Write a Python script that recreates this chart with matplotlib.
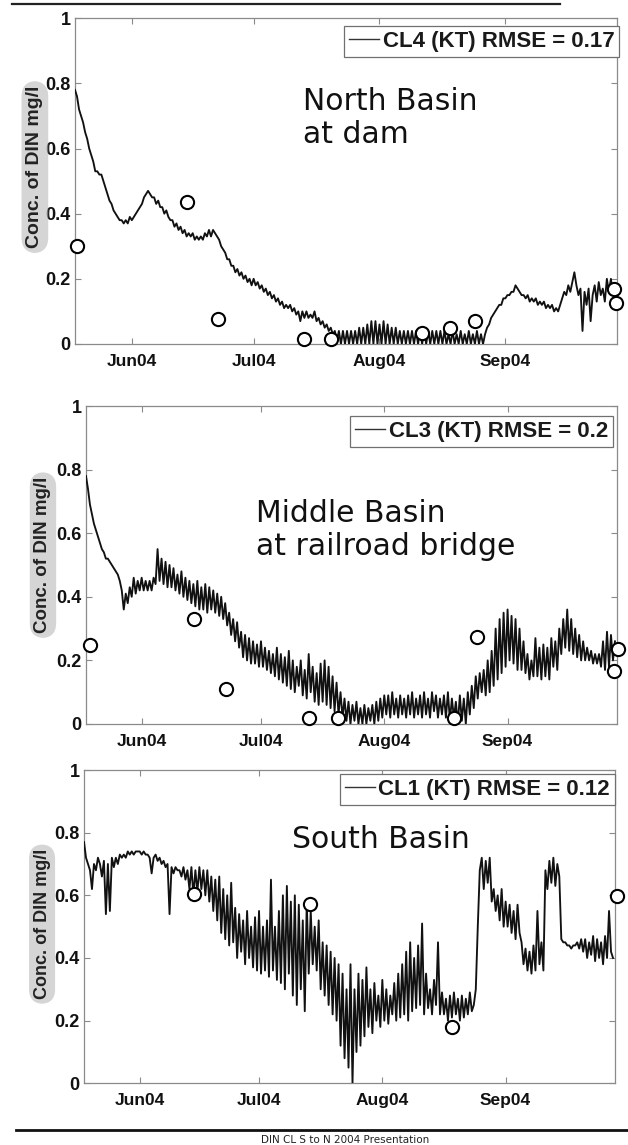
import numpy as np
import matplotlib
matplotlib.use("Agg")
import matplotlib.pyplot as plt
from matplotlib.lines import Line2D

# ---------------- data ----------------
series_start = "2004-05-18T00:00"   # model output, 12-hour steps
step_hours = 12

north_din = [
    .78,.76,.72,.70,.68,.65,.63,.60,.58,.56, .53,.53,.52,.52,.50,.48,.46,.44,.43,.41,
    .40,.39,.38,.38,.37,.38,.37,.39,.38,.39, .40,.41,.42,.43,.45,.46,.47,.46,.45,.45,
    .43,.44,.42,.42,.40,.41,.39,.38,.38,.36, .37,.35,.36,.34,.35,.33,.34,.33,.34,.32,
    .33,.32,.33,.32,.34,.33,.35,.33,.35,.34, .33,.32,.30,.29,.28,.26,.26,.24,.24,.22,
    .23,.21,.22,.20,.21,.19,.20,.18,.20,.18, .19,.17,.18,.16,.17,.15,.16,.14,.15,.13,
    .14,.12,.13,.11,.12,.11,.12,.10,.11,.09, .10,.07,.10,.08,.10,.08,.09,.08,.10,.07,
    .08,.06,.07,.05,.06,.04,.05,.03,.04,.01, .04,.00,.04,.00,.04,.00,.04,.00,.04,.00,
    .05,.00,.05,.00,.06,.00,.07,.00,.07,.00, .06,.00,.07,.00,.06,.00,.05,.00,.05,.00,
    .04,.00,.04,.00,.04,.00,.04,.00,.04,.00, .04,.00,.04,.00,.04,.00,.04,.00,.04,.00,
    .04,.00,.04,.00,.03,.00,.04,.00,.03,.00, .04,.00,.03,.00,.04,.00,.03,.00,.04,.00,
    .03,.00,.03,.05,.06,.08,.09,.10,.11,.12, .12,.14,.14,.15,.15,.16,.16,.18,.17,.16,
    .15,.15,.14,.15,.13,.14,.13,.14,.12,.13, .12,.13,.11,.12,.11,.12,.10,.11,.10,.12,
    .14,.16,.15,.18,.16,.19,.22,.18,.15,.17, .04,.16,.12,.17,.07,.15,.18,.13,.19,.15,
    .17,.13,.20,.16,.20,.15,.18,
]

middle_din = [
    .78,.74,.69,.66,.63,.61,.59,.57,.55,.54, .52,.52,.51,.50,.49,.48,.47,.45,.42,.36,
    .41,.38,.43,.40,.46,.41,.45,.42,.46,.42, .45,.42,.45,.42,.46,.44,.55,.45,.52,.44,
    .51,.43,.50,.43,.49,.42,.47,.41,.48,.40, .46,.39,.45,.38,.44,.37,.45,.36,.43,.36,
    .44,.35,.43,.36,.42,.35,.41,.34,.40,.33, .38,.31,.35,.28,.33,.26,.32,.24,.29,.21,
    .28,.20,.27,.19,.26,.19,.25,.18,.26,.18, .24,.17,.23,.16,.22,.15,.24,.14,.22,.13,
    .21,.12,.23,.11,.20,.10,.18,.12,.20,.09, .17,.08,.22,.10,.18,.07,.16,.06,.19,.07,
    .20,.06,.18,.05,.15,.04,.13,.03,.10,.02, .08,.01,.07,.00,.06,.01,.07,.00,.05,.00,
    .06,.00,.05,.01,.06,.00,.07,.01,.08,.02, .09,.03,.09,.02,.10,.03,.08,.02,.09,.03,
    .08,.02,.09,.03,.10,.02,.08,.03,.09,.02, .10,.03,.08,.02,.10,.04,.09,.02,.08,.03,
    .09,.02,.10,.01,.08,.02,.07,.00,.09,.01, .08,.00,.10,.03,.12,.05,.15,.08,.16,.10,
    .17,.09,.20,.10,.23,.12,.30,.14,.33,.16, .35,.18,.36,.20,.34,.19,.33,.17,.30,.17,
    .26,.16,.22,.14,.20,.15,.27,.15,.24,.14, .25,.15,.24,.14,.27,.18,.26,.17,.30,.22,
    .33,.24,.36,.23,.33,.22,.30,.21,.28,.20, .26,.20,.24,.20,.23,.19,.22,.19,.22,.18,
    .26,.17,.29,.18,.28,.20,.26,
]

south_din = [
    .77,.72,.70,.68,.62,.70,.68,.72,.70,.66, .71,.54,.70,.55,.72,.69,.72,.70,.73,.72,
    .73,.72,.74,.73,.74,.73,.74,.74,.74,.73, .74,.73,.73,.72,.67,.72,.73,.71,.72,.70,
    .71,.69,.70,.54,.69,.67,.69,.68,.68,.66, .69,.65,.68,.62,.69,.60,.68,.61,.69,.62,
    .68,.60,.68,.58,.66,.55,.65,.52,.66,.48, .62,.46,.60,.44,.64,.45,.56,.40,.54,.42,
    .52,.38,.55,.40,.50,.37,.53,.36,.55,.35, .50,.36,.52,.34,.65,.36,.50,.33,.55,.32,
    .60,.30,.63,.35,.58,.28,.60,.25,.57,.30, .52,.23,.58,.35,.55,.38,.50,.36,.52,.30,
    .45,.28,.44,.25,.42,.22,.40,.20,.38,.12, .35,.08,.30,.05,.38,.00,.30,.10,.35,.12,
    .33,.15,.37,.18,.30,.16,.32,.20,.28,.18, .33,.20,.30,.19,.28,.22,.32,.20,.35,.21,
    .38,.22,.42,.20,.45,.23,.40,.24,.44,.25, .51,.22,.35,.24,.30,.22,.33,.25,.45,.22,
    .29,.22,.27,.20,.28,.21,.29,.22,.27,.20, .28,.21,.27,.22,.29,.23,.25,.30,.50,.68,
    .72,.62,.71,.64,.72,.58,.62,.55,.60,.52, .62,.50,.58,.50,.57,.48,.55,.46,.57,.48,
    .45,.38,.43,.36,.42,.35,.44,.36,.55,.38, .45,.36,.68,.62,.71,.64,.72,.63,.70,.66,
    .46,.45,.45,.44,.44,.43,.44,.44,.45,.43, .46,.42,.46,.40,.45,.41,.47,.39,.46,.40,
    .45,.38,.47,.40,.55,.42,.40,
]

north_obs_dates = ["2004-05-18T12:00", "2004-06-14T14:00", "2004-06-22T07:00",
                   "2004-07-13T10:00", "2004-07-20T02:00", "2004-08-11T12:00",
                   "2004-08-18T10:00", "2004-08-24T14:00", "2004-09-27T19:00",
                   "2004-09-28T05:00"]
north_obs_din = [0.30, 0.437, 0.076, 0.015, 0.015, 0.033, 0.05, 0.072, 0.169, 0.125]

middle_obs_dates = ["2004-05-19T00:00", "2004-06-14T02:00", "2004-06-22T02:00",
                    "2004-07-13T00:00", "2004-07-20T07:00", "2004-08-18T10:00",
                    "2004-08-24T10:00", "2004-09-27T19:00", "2004-09-28T19:00"]
middle_obs_din = [0.248, 0.329, 0.111, 0.02, 0.02, 0.02, 0.275, 0.168, 0.236]

south_obs_dates = ["2004-06-14T14:00", "2004-07-13T22:00", "2004-08-18T14:00",
                   "2004-09-29T02:00"]
south_obs_din = [0.604, 0.571, 0.179, 0.598]

legend_labels = ["CL4 (KT) RMSE = 0.17", "CL3 (KT) RMSE = 0.2", "CL1 (KT) RMSE = 0.12"]
panel_titles = ["North Basin\nat dam", "Middle Basin\nat railroad bridge", "South Basin"]
month_ticks = ["2004-06-01", "2004-07-01", "2004-08-01", "2004-09-01"]
month_labels = ["Jun04", "Jul04", "Aug04", "Sep04"]
y_ticks = [0, 0.2, 0.4, 0.6, 0.8, 1]
y_tick_labels = ["0", "0.2", "0.4", "0.6", "0.8", "1"]
y_label = "Conc. of DIN mg/l"
x_limits = ("2004-05-18T00:00", "2004-09-28T12:00")
footer = "DIN CL S to N 2004 Presentation"

# ---------------- figure ----------------
plt.rcParams["font.family"] = ["Liberation Sans", "DejaVu Sans"]
fig = plt.figure(figsize=(6.28, 11.45), dpi=100)

rects = [[0.1194, 0.6996, 0.8631, 0.2845],
         [0.1369, 0.3677, 0.8455, 0.2777],
         [0.1338, 0.0539, 0.8455, 0.2736]]
legend_anchor = [(1.004, 0.976), (0.992, 0.969), (1.0, 0.987)]
title_pos = [(0.421, 0.79), (0.32, 0.708), (0.392, 0.825)]
ylabel_pos = [(-0.074, 0.543), (-0.081, 0.531), (-0.079, 0.508)]
ylabel_size = [14, 13.5, 13]

series = [north_din, middle_din, south_din]
obs = [(north_obs_dates, north_obs_din), (middle_obs_dates, middle_obs_din),
       (south_obs_dates, south_obs_din)]

t0 = np.datetime64(series_start, "m")
step = np.timedelta64(step_hours * 60, "m")
spine_col = "#8a8a8a"

for i in range(3):
    ax = fig.add_axes(rects[i])
    vals = np.array(series[i])
    t = t0 + np.arange(len(vals)) * step
    line, = ax.plot(t, vals, color="#111111", lw=1.35, label=legend_labels[i], zorder=3)
    od = np.array(obs[i][0], dtype="datetime64[m]")
    ax.plot(od, obs[i][1], ls="none", marker="o", ms=9.5, mfc="white",
            mec="black", mew=1.5, clip_on=False, zorder=6)

    ax.set_xlim(np.datetime64(x_limits[0]), np.datetime64(x_limits[1]))
    ax.set_ylim(0, 1)
    ax.set_xticks(np.array(month_ticks, dtype="datetime64[D]"))
    ax.set_xticklabels(month_labels, fontweight="bold", fontsize=12.5)
    ax.set_yticks(y_ticks)
    ax.set_yticklabels(y_tick_labels, fontweight="bold", fontsize=13)
    ax.tick_params(direction="in", length=4, width=0.8, color=spine_col,
                   top=True, right=True, labelcolor="#111111")
    ax.tick_params(axis="x", pad=7)
    ax.tick_params(axis="y", pad=3)
    for s in ax.spines.values():
        s.set_color(spine_col)
        s.set_linewidth(0.9)

    leg = ax.legend(handles=[line], loc="upper right", bbox_to_anchor=legend_anchor[i],
                    borderaxespad=0, fancybox=False, edgecolor="#707070", framealpha=1,
                    prop={"size": 16, "weight": "bold"}, handlelength=1.35,
                    handletextpad=0.15, borderpad=0.22)
    leg.get_frame().set_linewidth(0.9)
    leg.get_lines()[0].set_linewidth(1.0)
    leg.get_lines()[0].set_color("#333333")
    for txt in leg.get_texts():
        txt.set_color("#1a1a1a")

    ax.text(title_pos[i][0], title_pos[i][1], panel_titles[i], transform=ax.transAxes,
            family="DejaVu Sans", fontsize=21.5, ha="left", va="top", color="#111111",
            linespacing=1.2)

    ax.text(ylabel_pos[i][0], ylabel_pos[i][1], y_label, transform=ax.transAxes,
            rotation=90, ha="center", va="center", fontsize=ylabel_size[i],
            fontweight="bold", color="#222222",
            bbox=dict(boxstyle="round,pad=0.25,rounding_size=0.8", fc="#b9b9b9",
                      ec="none", alpha=0.6))

# rules and footer
fig.add_artist(Line2D([12 / 628, 560 / 628], [1 - 4 / 1145, 1 - 4 / 1145],
                      color="#222222", lw=1.6))
fig.add_artist(Line2D([16 / 628, 1.0], [1 - 1130 / 1145, 1 - 1130 / 1145],
                      color="#111111", lw=2.0))
fig.text(345 / 628, 1 - 1140 / 1145, footer, family="DejaVu Sans", fontsize=7.5,
         ha="center", va="center", color="#222222")

fig.savefig("out.png", dpi=100)
